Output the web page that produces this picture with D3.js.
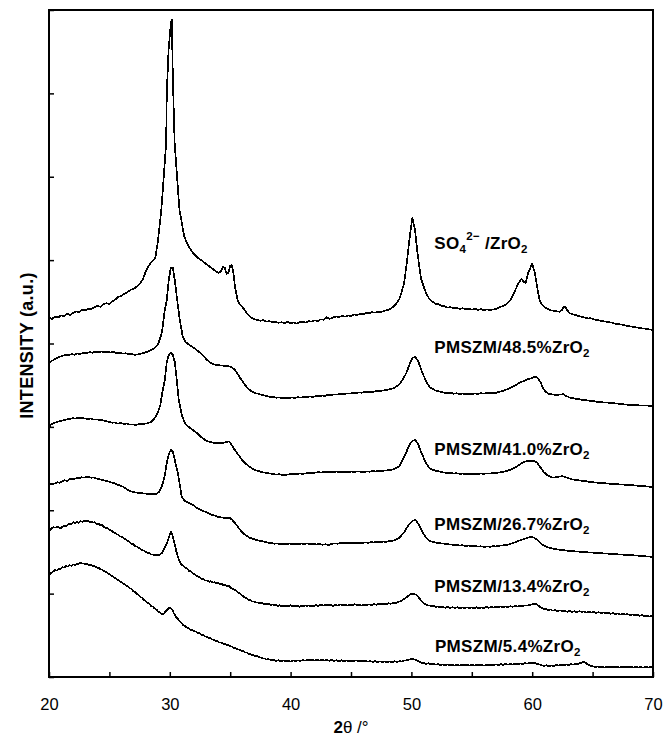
<!DOCTYPE html>
<html>
<head>
<meta charset="utf-8">
<script src="https://cdn.jsdelivr.net/npm/d3@7"></script>
<style>
  body { margin: 0; background: #fff; }
  svg { display: block; }
  text { font-family: "Liberation Sans", Arial, Helvetica, sans-serif; fill: #000; }
</style>
</head>
<body>
<svg id="chart" width="664" height="737"></svg>
<script>
// XRD patterns: [2θ (deg), stacked intensity (a.u.)]
const sulfatedZirconia = [
  [20.0,4308],[20.25,4296],[20.5,4320],[20.75,4312],[21.0,4336],[21.25,4330],[21.5,4356],[21.75,4344],
  [22.0,4368],[22.25,4386],[22.5,4376],[22.75,4404],[23.0,4396],[23.25,4416],[23.5,4410],[23.75,4436],
  [24.0,4450],[24.25,4440],[24.5,4470],[24.75,4482],[25.0,4476],[25.25,4506],[25.5,4530],[25.75,4560],
  [26.0,4572],[26.25,4596],[26.5,4616],[26.75,4644],[27.0,4656],[27.25,4680],[27.5,4710],[27.75,4764],
  [28.0,4860],[28.2,4920],[28.5,4980],[28.8,5028],[29.0,5208],[29.3,5604],[29.5,6000],[29.7,6408],
  [29.75,7008],[29.9,7524],[30.1,7860],[30.17,7884],[30.25,7200],[30.4,6408],[30.6,6000],[30.8,5604],
  [31.2,5280],[31.5,5180],[31.9,5088],[32.3,5030],[32.6,5000],[33.1,4944],[33.6,4890],[34.0,4848],
  [34.2,4860],[34.4,4920],[34.55,4910],[34.7,4836],[34.85,4850],[35.0,4932],[35.12,4944],[35.25,4860],
  [35.4,4680],[35.6,4524],[35.8,4470],[36.0,4440],[36.25,4392],[36.5,4340],[36.75,4310],[37.0,4290],
  [37.25,4284],[37.5,4272],[37.75,4280],[38.0,4262],[38.25,4270],[38.5,4254],[38.75,4262],[39.0,4248],
  [39.25,4256],[39.5,4244],[39.75,4258],[40.0,4246],[40.25,4252],[40.5,4240],[40.75,4256],[41.0,4260],
  [41.25,4250],[41.5,4268],[41.75,4262],[42.0,4276],[42.25,4270],[42.5,4290],[42.75,4284],[43.0,4316],
  [43.2,4296],[43.5,4310],[43.75,4324],[44.0,4316],[44.25,4330],[44.5,4322],[44.75,4336],[45.0,4330],
  [45.25,4348],[45.5,4340],[45.75,4356],[46.0,4350],[46.25,4368],[46.5,4360],[46.75,4376],[47.0,4370],
  [47.25,4382],[47.5,4378],[47.75,4392],[48.0,4400],[48.25,4412],[48.5,4440],[48.75,4480],[49.0,4530],
  [49.2,4620],[49.4,4728],[49.65,5004],[49.9,5328],[50.08,5508],[50.3,5364],[50.5,5088],[50.8,4776],
  [51.2,4608],[51.5,4530],[51.75,4500],[52.0,4476],[52.25,4470],[52.5,4452],[52.75,4446],[53.0,4432],
  [53.25,4436],[53.5,4420],[53.75,4426],[54.0,4414],[54.25,4424],[54.5,4410],[54.75,4418],[55.0,4406],
  [55.25,4416],[55.5,4404],[55.75,4412],[56.0,4400],[56.25,4410],[56.5,4402],[56.75,4408],[57.0,4412],
  [57.25,4430],[57.5,4446],[57.75,4460],[58.0,4490],[58.2,4524],[58.5,4608],[58.8,4704],[59.1,4776],
  [59.3,4740],[59.45,4728],[59.7,4860],[60.0,4956],[60.2,4860],[60.35,4728],[60.6,4524],[60.8,4470],
  [61.0,4440],[61.25,4416],[61.5,4400],[61.75,4392],[62.0,4388],[62.25,4380],[62.45,4400],[62.6,4436],
  [62.75,4440],[62.9,4400],[63.1,4364],[63.35,4350],[63.6,4340],[63.85,4330],[64.1,4320],[64.35,4312],
  [64.6,4300],[64.85,4304],[65.1,4290],[65.35,4282],[65.6,4276],[65.85,4268],[66.1,4262],[66.35,4256],
  [66.6,4250],[66.85,4238],[67.1,4236],[67.35,4228],[67.6,4220],[67.85,4212],[68.1,4204],[68.35,4200],
  [68.6,4192],[68.85,4188],[69.1,4180],[69.35,4178],[69.6,4170],[69.85,4166],[70.0,4164]
];

const pmszm485 = [
  [20.0,3768],[20.2,3790],[20.4,3804],[20.6,3820],[20.85,3840],[21.1,3852],[21.35,3864],[21.6,3858],
  [21.85,3872],[22.1,3866],[22.35,3880],[22.6,3874],[22.85,3888],[23.1,3882],[23.35,3896],[23.6,3890],
  [23.85,3902],[24.1,3894],[24.35,3904],[24.6,3896],[24.85,3900],[25.1,3892],[25.35,3898],[25.6,3886],
  [25.85,3890],[26.1,3878],[26.35,3884],[26.6,3872],[26.85,3876],[27.1,3864],[27.35,3870],[27.6,3876],
  [27.85,3888],[28.1,3900],[28.35,3912],[28.6,3932],[28.85,3960],[29.05,4000],[29.34,4128],[29.59,4404],
  [29.75,4524],[29.92,4764],[30.08,4908],[30.25,4908],[30.41,4764],[30.66,4464],[30.83,4284],[31.07,4080],
  [31.3,4020],[31.6,3984],[31.85,3960],[32.1,3936],[32.35,3906],[32.6,3880],[32.85,3840],[33.1,3800],
  [33.35,3772],[33.6,3750],[33.85,3744],[34.1,3738],[34.35,3736],[34.6,3730],[34.85,3728],[35.1,3718],
  [35.35,3690],[35.6,3640],[35.85,3580],[36.1,3530],[36.35,3480],[36.6,3444],[36.85,3420],[37.1,3404],
  [37.35,3396],[37.6,3384],[37.85,3376],[38.1,3366],[38.35,3360],[38.6,3356],[38.85,3350],[39.1,3352],
  [39.35,3346],[39.6,3350],[39.85,3344],[40.1,3352],[40.35,3348],[40.6,3356],[40.85,3352],[41.1,3360],
  [41.35,3356],[41.6,3364],[41.85,3360],[42.1,3370],[42.35,3366],[42.6,3376],[42.85,3372],[43.1,3384],
  [43.35,3380],[43.6,3390],[43.85,3386],[44.1,3396],[44.35,3392],[44.6,3400],[44.85,3398],[45.1,3406],
  [45.35,3404],[45.6,3412],[45.85,3410],[46.1,3416],[46.35,3414],[46.6,3422],[46.85,3420],[47.1,3430],
  [47.35,3428],[47.6,3436],[47.85,3440],[48.1,3448],[48.35,3456],[48.6,3470],[48.85,3492],[49.05,3520],
  [49.26,3564],[49.59,3648],[49.83,3744],[50.08,3828],[50.33,3840],[50.58,3780],[50.91,3648],[51.24,3540],
  [51.49,3480],[51.75,3456],[52.0,3436],[52.25,3428],[52.5,3416],[52.75,3410],[53.0,3404],[53.25,3408],
  [53.5,3398],[53.75,3404],[54.0,3394],[54.25,3400],[54.5,3392],[54.75,3398],[55.0,3394],[55.25,3400],
  [55.5,3396],[55.75,3404],[56.0,3398],[56.25,3406],[56.5,3402],[56.75,3410],[57.0,3408],[57.25,3420],
  [57.5,3428],[57.75,3440],[58.0,3456],[58.25,3472],[58.5,3490],[58.75,3512],[59.0,3532],[59.25,3548],
  [59.5,3564],[59.75,3576],[60.0,3588],[60.2,3598],[60.33,3600],[60.5,3580],[60.7,3530],[60.9,3468],
  [61.1,3420],[61.35,3398],[61.6,3390],[61.85,3386],[62.1,3384],[62.35,3388],[62.55,3392],[62.8,3372],
  [63.1,3352],[63.35,3346],[63.6,3338],[63.85,3332],[64.1,3326],[64.35,3322],[64.6,3316],[64.85,3312],
  [65.1,3308],[65.35,3302],[65.6,3300],[65.85,3294],[66.1,3292],[66.35,3290],[66.6,3288],[66.85,3282],
  [67.1,3278],[67.35,3274],[67.6,3270],[67.85,3266],[68.1,3264],[68.35,3262],[68.6,3260],[68.85,3258],
  [69.1,3256],[69.35,3256],[69.6,3254],[69.85,3252],[70.0,3252]
];

const pmszm410 = [
  [20.0,3000],[20.2,3030],[20.45,3048],[20.7,3060],[20.95,3072],[21.2,3078],[21.45,3090],[21.7,3096],
  [21.95,3104],[22.2,3100],[22.45,3110],[22.7,3104],[22.95,3102],[23.2,3096],[23.45,3100],[23.7,3088],
  [23.95,3090],[24.2,3080],[24.45,3078],[24.7,3070],[24.95,3062],[25.2,3050],[25.45,3052],[25.7,3040],
  [25.95,3044],[26.2,3036],[26.45,3040],[26.7,3026],[26.95,3030],[27.2,3022],[27.45,3032],[27.7,3030],
  [27.95,3040],[28.2,3044],[28.45,3060],[28.7,3096],[28.9,3140],[29.05,3190],[29.2,3250],[29.42,3444],
  [29.59,3564],[29.75,3780],[29.92,3864],[30.08,3888],[30.25,3864],[30.41,3780],[30.58,3564],[30.74,3324],
  [30.99,3144],[31.24,3048],[31.5,3006],[31.75,2980],[32.0,2952],[32.25,2926],[32.5,2890],[32.75,2862],
  [33.0,2834],[33.25,2822],[33.5,2812],[33.75,2806],[34.0,2810],[34.25,2804],[34.5,2810],[34.75,2822],
  [34.9,2826],[35.05,2800],[35.3,2740],[35.55,2690],[35.8,2640],[36.05,2590],[36.3,2556],[36.55,2526],
  [36.8,2504],[37.05,2484],[37.3,2472],[37.55,2460],[37.8,2452],[38.05,2446],[38.3,2440],[38.55,2434],
  [38.8,2428],[39.05,2432],[39.3,2424],[39.55,2426],[39.8,2428],[40.05,2434],[40.3,2430],[40.55,2436],
  [40.8,2440],[41.05,2436],[41.3,2444],[41.55,2448],[41.8,2444],[42.05,2452],[42.3,2456],[42.55,2452],
  [42.8,2460],[43.05,2456],[43.3,2462],[43.55,2458],[43.8,2464],[44.05,2460],[44.3,2456],[44.55,2462],
  [44.8,2458],[45.05,2464],[45.3,2460],[45.55,2466],[45.8,2462],[46.05,2458],[46.3,2466],[46.55,2462],
  [46.8,2470],[47.05,2466],[47.3,2474],[47.55,2470],[47.8,2476],[48.05,2480],[48.3,2484],[48.55,2492],
  [48.8,2510],[49.01,2532],[49.26,2604],[49.59,2700],[49.83,2784],[50.08,2832],[50.33,2844],[50.58,2784],
  [50.83,2688],[51.16,2580],[51.49,2508],[51.75,2486],[52.0,2474],[52.25,2468],[52.5,2456],[52.75,2452],
  [53.0,2446],[53.25,2448],[53.5,2440],[53.75,2444],[54.0,2436],[54.25,2440],[54.5,2434],[54.75,2438],
  [55.0,2432],[55.25,2438],[55.5,2434],[55.75,2440],[56.0,2436],[56.25,2442],[56.5,2440],[56.75,2446],
  [57.0,2448],[57.25,2452],[57.5,2458],[57.75,2466],[58.0,2476],[58.25,2490],[58.5,2506],[58.75,2528],
  [59.0,2552],[59.25,2572],[59.5,2588],[59.75,2594],[60.0,2594],[60.2,2590],[60.4,2570],[60.6,2532],
  [60.8,2488],[61.0,2452],[61.25,2422],[61.5,2400],[61.75,2392],[62.0,2396],[62.25,2404],[62.5,2410],
  [62.75,2398],[63.0,2384],[63.25,2372],[63.5,2366],[63.75,2360],[64.0,2356],[64.25,2350],[64.5,2348],
  [64.75,2340],[65.0,2338],[65.25,2332],[65.5,2330],[65.75,2326],[66.0,2324],[66.25,2320],[66.5,2318],
  [66.75,2314],[67.0,2312],[67.25,2310],[67.5,2308],[67.75,2306],[68.0,2304],[68.25,2300],[68.5,2298],
  [68.75,2294],[69.0,2292],[69.25,2288],[69.5,2286],[69.75,2282],[70.0,2280]
];

const pmszm267 = [
  [20.0,2304],[20.15,2320],[20.3,2312],[20.5,2324],[20.7,2336],[20.9,2330],[21.1,2350],[21.3,2360],
  [21.5,2352],[21.7,2372],[21.9,2380],[22.1,2374],[22.3,2388],[22.5,2384],[22.7,2396],[22.9,2390],
  [23.1,2400],[23.3,2396],[23.5,2390],[23.7,2394],[23.9,2380],[24.1,2376],[24.3,2366],[24.5,2362],
  [24.7,2350],[24.9,2346],[25.1,2334],[25.3,2330],[25.5,2318],[25.7,2306],[25.9,2296],[26.1,2284],
  [26.3,2264],[26.5,2246],[26.7,2232],[26.9,2222],[27.1,2216],[27.3,2210],[27.5,2208],[27.7,2204],
  [27.9,2200],[28.1,2198],[28.3,2194],[28.5,2196],[28.7,2192],[28.9,2198],[29.1,2220],[29.3,2270],
  [29.45,2340],[29.59,2424],[29.75,2568],[29.92,2676],[30.08,2724],[30.25,2700],[30.41,2604],[30.66,2448],
  [30.83,2304],[30.99,2160],[31.2,2116],[31.45,2096],[31.7,2076],[31.95,2060],[32.2,2030],[32.45,2014],
  [32.7,1994],[32.95,1980],[33.2,1962],[33.45,1946],[33.7,1936],[33.95,1922],[34.2,1916],[34.45,1910],
  [34.7,1906],[34.95,1910],[35.15,1886],[35.4,1846],[35.65,1798],[35.9,1752],[36.15,1716],[36.4,1688],
  [36.65,1668],[36.9,1656],[37.15,1644],[37.4,1636],[37.65,1628],[37.9,1620],[38.15,1612],[38.4,1606],
  [38.65,1598],[38.9,1602],[39.15,1594],[39.4,1598],[39.65,1592],[39.9,1600],[40.15,1594],[40.4,1598],
  [40.65,1592],[40.9,1600],[41.15,1596],[41.4,1602],[41.65,1594],[41.9,1598],[42.15,1590],[42.4,1596],
  [42.65,1586],[42.9,1592],[43.15,1584],[43.4,1596],[43.65,1602],[43.9,1598],[44.15,1608],[44.4,1604],
  [44.65,1610],[44.9,1606],[45.15,1612],[45.4,1606],[45.65,1610],[45.9,1606],[46.15,1614],[46.4,1610],
  [46.65,1618],[46.9,1614],[47.15,1620],[47.4,1618],[47.65,1624],[47.9,1622],[48.15,1628],[48.4,1632],
  [48.65,1644],[48.85,1656],[49.05,1676],[49.42,1740],[49.83,1836],[50.08,1872],[50.33,1884],[50.58,1836],
  [50.83,1764],[51.16,1680],[51.49,1632],[51.75,1620],[52.0,1612],[52.25,1608],[52.5,1602],[52.75,1598],
  [53.0,1592],[53.25,1590],[53.5,1584],[53.75,1586],[54.0,1578],[54.25,1580],[54.5,1572],[54.75,1576],
  [55.0,1568],[55.25,1572],[55.5,1564],[55.75,1568],[56.0,1560],[56.25,1566],[56.5,1562],[56.75,1570],
  [57.0,1566],[57.25,1574],[57.5,1578],[57.75,1580],[58.0,1586],[58.25,1598],[58.5,1612],[58.75,1626],
  [59.0,1640],[59.25,1652],[59.5,1664],[59.75,1676],[59.95,1680],[60.15,1670],[60.35,1652],[60.55,1626],
  [60.75,1598],[60.95,1576],[61.2,1560],[61.45,1548],[61.7,1540],[61.95,1532],[62.2,1528],[62.45,1522],
  [62.7,1520],[62.95,1514],[63.2,1512],[63.45,1508],[63.7,1506],[63.95,1502],[64.2,1500],[64.45,1498],
  [64.7,1494],[64.95,1492],[65.2,1490],[65.45,1486],[65.7,1484],[65.95,1482],[66.2,1480],[66.45,1476],
  [66.7,1476],[66.95,1472],[67.2,1470],[67.45,1468],[67.7,1466],[67.95,1464],[68.2,1462],[68.45,1458],
  [68.7,1456],[68.95,1452],[69.2,1450],[69.45,1446],[69.7,1444],[70.0,1440]
];

const pmszm134 = [
  [20.0,1728],[20.1,1764],[20.2,1780],[20.35,1796],[20.5,1790],[20.65,1802],[20.8,1796],[20.95,1784],
  [21.1,1800],[21.25,1812],[21.4,1806],[21.55,1826],[21.7,1840],[21.85,1834],[22.0,1856],[22.15,1846],
  [22.3,1862],[22.45,1850],[22.6,1872],[22.75,1860],[22.9,1878],[23.05,1864],[23.2,1874],[23.35,1858],
  [23.5,1866],[23.65,1852],[23.8,1856],[23.95,1836],[24.1,1842],[24.25,1818],[24.4,1820],[24.55,1800],
  [24.7,1790],[24.85,1786],[25.0,1764],[25.15,1756],[25.3,1740],[25.45,1730],[25.6,1712],[25.75,1704],
  [25.9,1686],[26.05,1680],[26.2,1660],[26.35,1650],[26.5,1636],[26.65,1624],[26.8,1600],[26.95,1596],
  [27.1,1572],[27.25,1566],[27.4,1548],[27.55,1540],[27.7,1520],[27.85,1516],[28.0,1500],[28.15,1488],
  [28.3,1484],[28.45,1470],[28.6,1468],[28.75,1458],[28.9,1466],[29.05,1460],[29.2,1472],[29.35,1488],
  [29.5,1524],[29.65,1572],[29.8,1620],[29.95,1684],[30.08,1740],[30.2,1710],[30.3,1660],[30.42,1584],
  [30.55,1500],[30.7,1430],[30.85,1372],[31.0,1344],[31.15,1330],[31.3,1310],[31.45,1296],[31.6,1272],
  [31.75,1266],[31.9,1242],[32.05,1236],[32.2,1214],[32.35,1206],[32.5,1194],[32.65,1176],[32.8,1176],
  [32.95,1156],[33.1,1158],[33.25,1142],[33.4,1150],[33.55,1132],[33.7,1138],[33.85,1122],[34.0,1130],
  [34.15,1112],[34.3,1116],[34.45,1100],[34.6,1108],[34.75,1088],[34.9,1092],[35.05,1070],[35.2,1060],
  [35.35,1044],[35.5,1036],[35.65,1012],[35.8,1002],[35.95,980],[36.1,966],[36.25,948],[36.4,942],
  [36.55,924],[36.7,920],[36.85,904],[37.0,906],[37.15,892],[37.3,896],[37.45,884],[37.6,890],
  [37.75,876],[37.9,882],[38.05,870],[38.2,878],[38.35,864],[38.5,870],[38.65,858],[38.8,866],
  [38.95,852],[39.1,862],[39.25,848],[39.4,858],[39.55,846],[39.7,856],[39.85,850],[40.0,860],
  [40.15,846],[40.3,856],[40.45,848],[40.6,858],[40.75,842],[40.9,852],[41.05,846],[41.2,860],
  [41.35,850],[41.5,858],[41.65,846],[41.8,856],[41.95,850],[42.1,862],[42.3,852],[42.5,866],
  [42.7,856],[42.9,868],[43.1,858],[43.3,864],[43.5,852],[43.7,866],[43.9,858],[44.1,870],
  [44.3,860],[44.5,866],[44.7,856],[44.9,868],[45.1,860],[45.3,872],[45.5,862],[45.7,868],
  [45.9,856],[46.1,868],[46.3,860],[46.5,872],[46.7,864],[46.9,874],[47.1,866],[47.3,878],
  [47.5,870],[47.7,880],[47.9,874],[48.1,884],[48.3,878],[48.5,890],[48.7,886],[48.9,900],
  [49.1,910],[49.3,926],[49.5,948],[49.7,968],[49.9,990],[50.05,1000],[50.2,996],[50.35,990],
  [50.5,970],[50.65,946],[50.8,918],[50.95,896],[51.1,876],[51.25,868],[51.4,856],[51.55,860],
  [51.7,846],[51.85,852],[52.0,838],[52.2,846],[52.4,836],[52.6,844],[52.8,830],[53.0,840],
  [53.2,828],[53.4,838],[53.6,826],[53.8,836],[54.0,824],[54.2,834],[54.4,826],[54.6,836],
  [54.8,824],[55.0,834],[55.2,826],[55.4,836],[55.6,824],[55.8,834],[56.0,828],[56.2,840],
  [56.4,830],[56.6,842],[56.8,832],[57.0,844],[57.2,836],[57.4,846],[57.6,838],[57.8,846],
  [58.0,840],[58.2,848],[58.4,842],[58.6,852],[58.8,846],[59.0,856],[59.2,850],[59.4,860],
  [59.6,856],[59.8,866],[60.0,870],[60.2,878],[60.35,872],[60.5,856],[60.65,840],[60.8,830],
  [60.95,814],[61.1,820],[61.3,804],[61.5,810],[61.7,796],[61.9,804],[62.1,790],[62.3,800],
  [62.5,788],[62.7,796],[62.9,782],[63.1,792],[63.3,780],[63.5,788],[63.7,776],[63.9,790],
  [64.1,780],[64.3,786],[64.5,774],[64.7,784],[64.9,772],[65.1,780],[65.3,768],[65.5,778],
  [65.7,766],[65.9,774],[66.1,762],[66.3,770],[66.5,758],[66.7,768],[66.9,754],[67.1,762],
  [67.3,750],[67.5,760],[67.7,748],[67.9,754],[68.1,742],[68.3,750],[68.5,738],[68.7,746],
  [68.9,734],[69.1,742],[69.3,730],[69.5,736],[69.7,724],[69.85,730],[70.0,720]
];

const pmszm54 = [
  [20.0,1200],[20.1,1236],[20.2,1252],[20.35,1266],[20.5,1282],[20.65,1278],[20.8,1300],[20.95,1294],
  [21.1,1318],[21.25,1312],[21.4,1330],[21.55,1324],[21.7,1340],[21.85,1334],[22.0,1350],[22.15,1342],
  [22.3,1360],[22.45,1356],[22.6,1370],[22.75,1360],[22.9,1362],[23.05,1350],[23.2,1354],[23.35,1340],
  [23.5,1342],[23.65,1328],[23.8,1330],[23.95,1312],[24.1,1310],[24.25,1292],[24.4,1288],[24.55,1270],
  [24.7,1262],[24.85,1244],[25.0,1236],[25.15,1214],[25.3,1204],[25.45,1186],[25.6,1176],[25.75,1158],
  [25.9,1146],[26.05,1130],[26.2,1118],[26.35,1100],[26.5,1090],[26.65,1068],[26.8,1058],[26.95,1034],
  [27.1,1022],[27.25,1000],[27.4,984],[27.55,962],[27.7,950],[27.85,924],[28.0,912],[28.15,890],
  [28.3,878],[28.45,852],[28.6,844],[28.75,820],[28.9,808],[29.05,784],[29.2,772],[29.35,750],
  [29.5,756],[29.65,786],[29.8,810],[29.95,830],[30.1,824],[30.2,808],[30.35,760],[30.5,724],
  [30.65,700],[30.8,668],[30.95,650],[31.1,624],[31.25,612],[31.4,594],[31.55,588],[31.7,568],
  [31.85,564],[32.0,548],[32.15,546],[32.3,528],[32.45,526],[32.6,508],[32.75,504],[32.9,488],
  [33.05,484],[33.2,468],[33.35,466],[33.5,450],[33.65,446],[33.8,430],[33.95,428],[34.1,414],
  [34.25,412],[34.4,400],[34.55,400],[34.7,386],[34.85,384],[35.0,368],[35.15,366],[35.3,350],
  [35.45,346],[35.6,330],[35.75,330],[35.9,314],[36.05,312],[36.2,296],[36.35,294],[36.5,280],
  [36.65,278],[36.8,264],[36.95,262],[37.1,250],[37.25,248],[37.4,236],[37.55,234],[37.7,222],
  [37.85,222],[38.0,210],[38.2,214],[38.4,200],[38.6,206],[38.8,192],[39.0,200],[39.2,188],
  [39.4,198],[39.6,186],[39.8,196],[40.0,186],[40.2,198],[40.4,190],[40.6,200],[40.8,192],
  [41.0,204],[41.2,196],[41.4,208],[41.6,198],[41.8,206],[42.0,196],[42.2,208],[42.4,198],
  [42.6,206],[42.8,196],[43.0,204],[43.2,194],[43.4,204],[43.6,192],[43.8,200],[44.0,190],
  [44.2,200],[44.4,188],[44.6,198],[44.8,188],[45.0,198],[45.2,190],[45.4,200],[45.6,190],
  [45.8,196],[46.0,186],[46.2,196],[46.4,184],[46.6,192],[46.8,180],[47.0,190],[47.2,178],
  [47.4,188],[47.6,176],[47.8,186],[48.0,176],[48.2,186],[48.4,178],[48.6,188],[48.8,180],
  [49.0,190],[49.2,186],[49.4,196],[49.6,200],[49.8,208],[50.0,218],[50.15,214],[50.3,210],
  [50.45,198],[50.6,188],[50.8,172],[51.0,168],[51.2,156],[51.4,164],[51.6,152],[51.8,160],
  [52.0,148],[52.2,156],[52.4,144],[52.6,152],[52.8,140],[53.0,150],[53.2,138],[53.4,148],
  [53.6,136],[53.8,148],[54.0,138],[54.2,150],[54.4,140],[54.6,150],[54.8,138],[55.0,148],
  [55.2,136],[55.4,146],[55.6,138],[55.8,148],[56.0,136],[56.2,146],[56.4,140],[56.6,150],
  [56.8,140],[57.0,152],[57.2,142],[57.4,154],[57.6,146],[57.8,156],[58.0,148],[58.2,158],
  [58.4,150],[58.6,160],[58.8,152],[59.0,162],[59.2,156],[59.4,166],[59.6,160],[59.8,170],
  [60.0,164],[60.2,168],[60.4,156],[60.6,150],[60.8,140],[61.0,134],[61.2,140],[61.4,128],
  [61.6,138],[61.8,132],[62.0,144],[62.2,136],[62.4,148],[62.6,140],[62.8,150],[63.0,144],
  [63.2,154],[63.4,148],[63.6,160],[63.8,156],[64.0,168],[64.15,176],[64.3,182],[64.45,168],
  [64.6,150],[64.8,136],[65.0,128],[65.2,120],[65.4,126],[65.6,116],[65.8,124],[66.0,114],
  [66.2,124],[66.4,116],[66.6,126],[66.8,116],[67.0,124],[67.2,114],[67.4,122],[67.6,114],
  [67.8,124],[68.0,116],[68.2,124],[68.4,114],[68.6,122],[68.8,112],[69.0,120],[69.2,112],
  [69.4,122],[69.6,114],[69.8,122],[70.0,118]
];

const seriesData = [sulfatedZirconia, pmszm485, pmszm410, pmszm267, pmszm134, pmszm54];
const seriesNames = ["SO4/ZrO2", "PMSZM/48.5%ZrO2", "PMSZM/41.0%ZrO2", "PMSZM/26.7%ZrO2", "PMSZM/13.4%ZrO2", "PMSZM/5.4%ZrO2"];
const xTicks = [20, 25, 30, 35, 40, 45, 50, 55, 60, 65, 70];
const xTickLabels = ["20", "", "30", "", "40", "", "50", "", "60", "", "70"];
const yTicks = [0, 1000, 2000, 3000, 4000, 5000, 6000, 7000, 8000];

// ---- layout ----
const svg = d3.select("#chart");
const plot = { left: 49, top: 10, right: 653, bottom: 677 };

const x = d3.scaleLinear().domain([20, 70]).range([plot.left, plot.right]);
const y = d3.scaleLinear().domain([0, 8000]).range([plot.bottom, plot.top]);

// bottom axis: inward ticks every 5°, labels every 10°
const xAxis = d3.axisBottom(x)
  .tickValues(xTicks)
  .tickSizeInner(-5)
  .tickSizeOuter(0)
  .tickPadding(21)
  .tickFormat((d, i) => xTickLabels[i]);

const gx = svg.append("g")
  .attr("transform", `translate(0,${plot.bottom})`)
  .call(xAxis);
gx.select(".domain").remove();
gx.selectAll(".tick line").attr("stroke", "#000").attr("stroke-width", 1.5);
gx.selectAll(".tick text")
  .style("font-size", "16.5px")
  .attr("fill", "#000");

// left axis: unlabeled inward ticks
const yAxis = d3.axisLeft(y)
  .tickValues(yTicks)
  .tickSizeInner(-5)
  .tickSizeOuter(0)
  .tickFormat("");
const gy = svg.append("g")
  .attr("transform", `translate(${plot.left},0)`)
  .call(yAxis);
gy.select(".domain").remove();
gy.selectAll(".tick line").attr("stroke", "#000").attr("stroke-width", 1.5);

// diffraction patterns, drawn without anti-aliasing for a crisp stepped trace
const line = d3.line()
  .x(d => x(d[0]))
  .y(d => y(d[1]));

svg.append("g")
  .selectAll("path")
  .data(seriesData)
  .join("path")
  .attr("d", line)
  .attr("fill", "none")
  .attr("stroke", "#000")
  .attr("stroke-width", 1.7)
  .attr("stroke-linejoin", "round")
  .attr("shape-rendering", "crispEdges");

// plot frame
svg.append("rect")
  .attr("x", plot.left)
  .attr("y", plot.top)
  .attr("width", plot.right - plot.left)
  .attr("height", plot.bottom - plot.top)
  .attr("fill", "none")
  .attr("stroke", "#000")
  .attr("stroke-width", 2);

// sample labels, anchored in data coordinates beside each pattern
const labelAnchor = [
  [51.9, 5136], [51.9, 3888], [51.9, 2664], [51.9, 1764], [51.9, 1020], [51.95, 300]
];

seriesNames.forEach((name, i) => {
  const t = svg.append("text")
    .attr("x", x(labelAnchor[i][0]))
    .attr("y", y(labelAnchor[i][1]))
    .style("font-size", "17px")
    .style("font-weight", "bold")
    .style("letter-spacing", "0.3px");
  if (i === 0) {
    t.append("tspan").text("SO");
    t.append("tspan").text("4").attr("dy", 4).style("font-size", "11.5px");
    t.append("tspan").text("2\u2212").attr("dy", -13).style("font-size", "11.5px");
    t.append("tspan").text(" /ZrO").attr("dy", 9);
    t.append("tspan").text("2").attr("dy", 4).style("font-size", "11.5px");
  } else {
    t.append("tspan").text(name.slice(0, -1));
    t.append("tspan").text("2").attr("dy", 4).style("font-size", "11.5px");
  }
});

// axis titles
const xTitle = svg.append("text")
  .attr("x", 351)
  .attr("y", 733)
  .attr("text-anchor", "middle")
  .style("font-size", "17px");
xTitle.append("tspan").text("2").style("font-weight", "bold");
xTitle.append("tspan").text("\u03B8 /\u00B0");

svg.append("text")
  .attr("transform", `translate(33,${(plot.top + plot.bottom) / 2 + 2}) rotate(-90)`)
  .attr("text-anchor", "middle")
  .style("font-size", "18px")
  .style("font-weight", "bold")
  .style("letter-spacing", "0.3px")
  .text("INTENSITY (a.u.)");
</script>
</body>
</html>
